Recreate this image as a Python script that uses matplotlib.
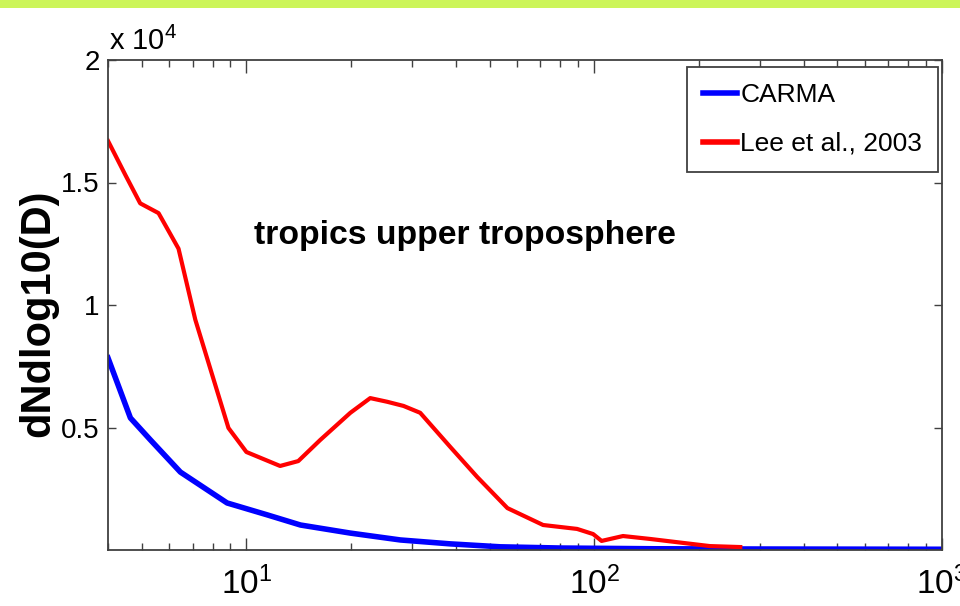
import math
import matplotlib
matplotlib.use("Agg")
import matplotlib.pyplot as plt
from matplotlib.ticker import FixedLocator, FuncFormatter, LogLocator, NullFormatter
from matplotlib.patches import Rectangle

FONT = 'Liberation Sans'
plt.rcParams['font.family'] = [FONT, 'DejaVu Sans']
plt.rcParams['mathtext.fontset'] = 'custom'
plt.rcParams['mathtext.rm'] = FONT
plt.rcParams['mathtext.it'] = FONT
plt.rcParams['mathtext.bf'] = FONT

# data (diameter D, dN/dlog10(D))
carma_D = [4.0, 4.64, 5.3, 6.46, 8.8, 11.5, 14.3, 19.9, 27.7, 38.6, 53.7, 80, 150, 300, 1000]
carma_N = [7840, 5390, 4490, 3180, 1920, 1430, 1020, 690, 410, 250, 130, 80, 50, 40, 30]

lee_D = [4.0, 4.49, 4.95, 5.59, 6.38, 7.13, 8.88, 10.0, 12.5, 14.1, 16.3, 19.9, 22.7, 25.4,
         28.3, 31.6, 38.6, 46.1, 56.3, 71.3, 89.3, 99.3, 105, 121, 145, 180, 215, 263]
lee_N = [16700, 15300, 14150, 13750, 12300, 9400, 4980, 4000, 3430, 3630, 4490, 5600, 6200, 6050,
         5880, 5600, 4200, 2980, 1710, 1020, 860, 650, 370, 570, 450, 290, 160, 120]

series_labels = ['CARMA', 'Lee et al., 2003']
ytick_vals = [5000, 10000, 15000, 20000]
xtick_vals = [10, 100, 1000]

fig = plt.figure(figsize=(9.6, 6.06), dpi=100)
fig.patches.append(Rectangle((0, 1 - 8/606), 1, 8/606, transform=fig.transFigure,
                             facecolor='#ccf55a', edgecolor='none'))

ax = fig.add_axes([108/960, 1 - 550/606, (942-108)/960, (550-60)/606])
ax.plot(carma_D, carma_N, color='#0000ff', lw=4, label=series_labels[0], solid_joinstyle='round')
ax.plot(lee_D, lee_N, color='#ff0000', lw=3, label=series_labels[1], solid_joinstyle='round')

ax.set_xscale('log')
ax.set_xlim(4, 1000)
ax.set_ylim(0, 20000)
ax.xaxis.set_major_locator(FixedLocator(xtick_vals))
ax.xaxis.set_major_formatter(FuncFormatter(lambda v, p: r'$10^{%d}$' % round(math.log10(v))))
ax.xaxis.set_minor_locator(LogLocator(base=10, subs=range(2, 10)))
ax.xaxis.set_minor_formatter(NullFormatter())
ax.yaxis.set_major_locator(FixedLocator(ytick_vals))
ax.yaxis.set_major_formatter(FuncFormatter(lambda v, p: ('%g' % (v / 1e4))))

for s in ax.spines.values():
    s.set_color('#404040')
    s.set_linewidth(1.3)
ax.tick_params(axis='both', which='both', direction='in', top=True, right=True,
               color='#404040', width=1.0)
ax.tick_params(axis='x', which='major', length=9, pad=12, labelsize=24)
ax.tick_params(axis='x', which='minor', length=5)
ax.tick_params(axis='y', which='major', length=6, pad=6, labelsize=20)

fig.text(109/960, 1 - 50/606, r'x 10$^{4}$', fontsize=21, ha='left', va='baseline')

fig.text(38/960, 1 - 313/606, 'dNdlog10(D)', rotation=90, fontsize=30, fontweight='bold',
         ha='center', va='center')

ax.text(0.428, 0.641, 'tropics upper troposphere', transform=ax.transAxes, fontsize=24.3,
        fontweight='bold', ha='center', va='center')

leg = ax.legend(loc='upper right', bbox_to_anchor=(0.9952, 0.9857), fontsize=19,
                handlelength=1.3, handletextpad=0.12, labelspacing=0.95,
                borderpad=0.6, borderaxespad=0.0,
                fancybox=False, framealpha=1, edgecolor='#404040')
leg.get_frame().set_linewidth(1.3)
for l in leg.get_lines():
    l.set_linewidth(4)

fig.savefig('out.png', dpi=100)
